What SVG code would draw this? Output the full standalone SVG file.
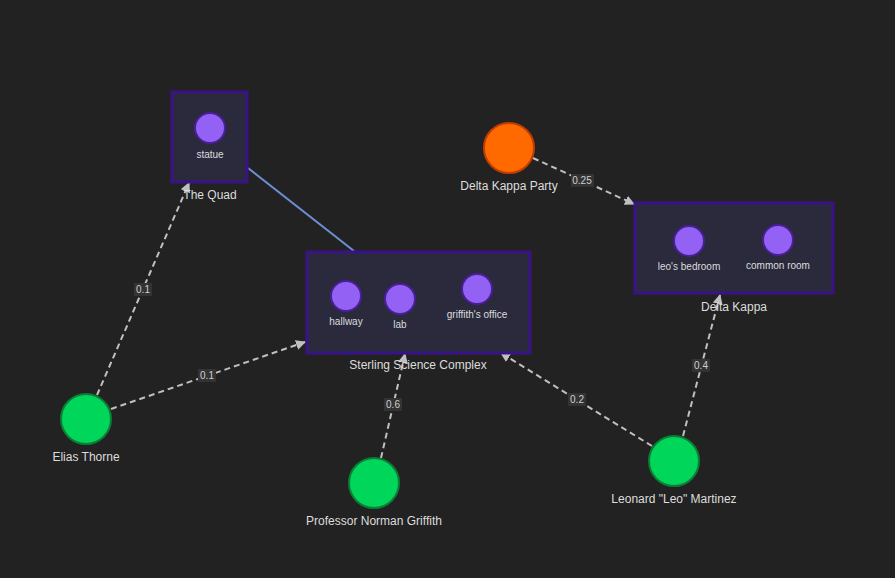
<svg xmlns="http://www.w3.org/2000/svg" width="895" height="578" viewBox="0 0 895 578">
<style>
text{font-family:"Liberation Sans",Arial,sans-serif;fill:#dddddd;text-anchor:middle}
.box{fill:#2a2a3c;stroke:#3a1288;stroke-width:3}
.loc{fill:#9461f5;stroke:#4a1f9a;stroke-width:2}
.char{fill:#00d65a;stroke:#0b7d36;stroke-width:2}
.ev{fill:#ff6a00;stroke:#c43d00;stroke-width:2}
.sub{font-size:10px;fill:#dcdcdc}
.lbl{font-size:12px}
.e{stroke:#c0c0c0;stroke-width:2;stroke-dasharray:6 4;fill:none;marker-end:url(#arr)}
.eb{fill:#333333}
.et{font-size:10px;fill:#cfcfcf}
</style>
<defs>
<marker id="arr" viewBox="0 0 10 10" refX="9" refY="5" markerWidth="5" markerHeight="5" orient="auto">
<path d="M0,0L10,5L0,10z" fill="#c0c0c0"/>
</marker>
</defs>
<rect width="895" height="578" fill="#222222"/>
<g id="connectors">
<line x1="248" y1="168" x2="354" y2="251" stroke="#6d8fd8" stroke-width="2"/>
<line class="e" x1="97" y1="395" x2="189" y2="183"/>
<line class="e" x1="111" y1="409" x2="305" y2="342"/>
<line class="e" x1="381" y1="458" x2="405" y2="354"/>
<line class="e" x1="652" y1="446" x2="501" y2="353"/>
<line class="e" x1="683" y1="436" x2="720" y2="295"/>
<line class="e" x1="533" y1="158" x2="634" y2="204"/>
<rect class="eb" x="134" y="283" width="18" height="13"/><text class="et" x="143" y="293">0.1</text>
<rect class="eb" x="198" y="369" width="18" height="13"/><text class="et" x="207" y="379">0.1</text>
<rect class="eb" x="384" y="398" width="18" height="13"/><text class="et" x="393" y="408">0.6</text>
<rect class="eb" x="568" y="393" width="18" height="13"/><text class="et" x="577" y="403">0.2</text>
<rect class="eb" x="692" y="359" width="18" height="13"/><text class="et" x="701" y="369">0.4</text>
<rect class="eb" x="571" y="174" width="23" height="13"/><text class="et" x="582" y="184">0.25</text>
</g>
<g id="the-quad">
<rect class="box" x="172" y="92" width="75" height="90"/>
<circle class="loc" cx="210" cy="128" r="15"/>
<text class="sub" x="210" y="158">statue</text>
<text class="lbl" x="210" y="199">The Quad</text>
</g>
<g id="sterling-science-complex">
<rect class="box" x="307" y="252" width="223" height="101"/>
<circle class="loc" cx="346" cy="296" r="15"/>
<text class="sub" x="346" y="325">hallway</text>
<circle class="loc" cx="400" cy="299" r="15"/>
<text class="sub" x="400" y="328">lab</text>
<circle class="loc" cx="477" cy="289" r="15"/>
<text class="sub" x="477" y="318">griffith's office</text>
<text class="lbl" x="418" y="369">Sterling Science Complex</text>
</g>
<g id="delta-kappa">
<rect class="box" x="635" y="203" width="198" height="90"/>
<circle class="loc" cx="689" cy="241" r="15"/>
<text class="sub" x="689" y="270">leo's bedroom</text>
<circle class="loc" cx="778" cy="240" r="15"/>
<text class="sub" x="778" y="269">common room</text>
<text class="lbl" x="734" y="311">Delta Kappa</text>
</g>
<g id="delta-kappa-party">
<circle class="ev" cx="509" cy="148" r="25"/>
<text class="lbl" x="509" y="190">Delta Kappa Party</text>
</g>
<g id="elias-thorne">
<circle class="char" cx="86" cy="419" r="25"/>
<text class="lbl" x="86" y="461">Elias Thorne</text>
</g>
<g id="professor-norman-griffith">
<circle class="char" cx="374" cy="483" r="25"/>
<text class="lbl" x="374" y="525">Professor Norman Griffith</text>
</g>
<g id="leonard-martinez">
<circle class="char" cx="674" cy="461" r="25"/>
<text class="lbl" x="674" y="503">Leonard "Leo" Martinez</text>
</g>
</svg>
